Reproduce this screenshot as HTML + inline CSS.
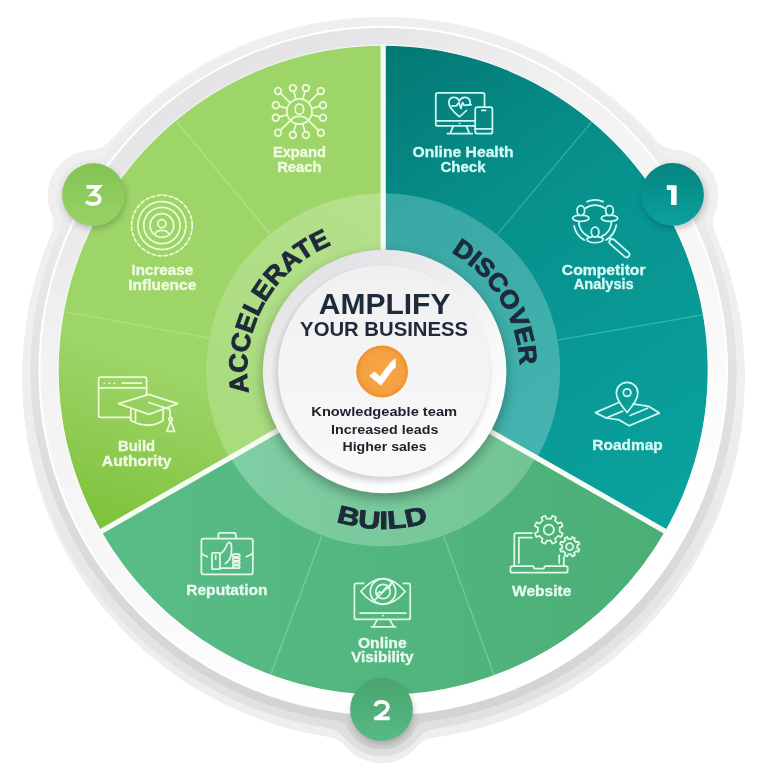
<!DOCTYPE html>
<html><head><meta charset="utf-8"><title>Amplify Your Business</title>
<style>
html,body{margin:0;padding:0;background:#fff;width:768px;height:768px;overflow:hidden}
svg{display:block;will-change:transform}
text{font-family:"Liberation Sans", sans-serif;font-weight:bold}
</style></head><body>
<svg width="768" height="768" viewBox="0 0 768 768">
<defs>
 <filter id="goo" x="-10%" y="-10%" width="120%" height="120%">
  <feGaussianBlur in="SourceGraphic" stdDeviation="7" result="b"/>
  <feColorMatrix in="b" mode="matrix" values="1 0 0 0 0  0 1 0 0 0  0 0 1 0 0  0 0 0 30 -14" result="g"/>
 </filter>
 <filter id="goo2" x="-10%" y="-10%" width="120%" height="120%">
  <feGaussianBlur in="SourceGraphic" stdDeviation="4" result="b"/>
  <feColorMatrix in="b" mode="matrix" values="1 0 0 0 0  0 1 0 0 0  0 0 1 0 0  0 0 0 30 -14" result="g"/>
 </filter>
 <linearGradient id="gPlate" x1="0" y1="17" x2="0" y2="760" gradientUnits="userSpaceOnUse">
  <stop offset="0" stop-color="#f0f0f0"/><stop offset="0.5" stop-color="#efefef"/><stop offset="0.95" stop-color="#e0e0e0"/><stop offset="1" stop-color="#dddddd"/>
 </linearGradient>
 <linearGradient id="gMid" x1="0" y1="18" x2="0" y2="750" gradientUnits="userSpaceOnUse">
  <stop offset="0" stop-color="#efefef"/><stop offset="0.25" stop-color="#ebebeb"/><stop offset="0.48" stop-color="#e2e2e2"/><stop offset="0.96" stop-color="#d3d3d3"/><stop offset="1" stop-color="#d0d0d0"/>
 </linearGradient>
 <filter id="blur6" x="-20%" y="-20%" width="140%" height="140%"><feGaussianBlur stdDeviation="6"/></filter>
 <filter id="blur3" x="-20%" y="-20%" width="140%" height="140%"><feGaussianBlur stdDeviation="3"/></filter>
 <filter id="blur2" x="-20%" y="-20%" width="140%" height="140%"><feGaussianBlur stdDeviation="2"/></filter>
 <linearGradient id="gInnerBand" x1="200" y1="0" x2="560" y2="740" gradientUnits="userSpaceOnUse">
  <stop offset="0" stop-color="#e1e1e4"/><stop offset="0.12" stop-color="#e5e5e7"/><stop offset="0.3" stop-color="#f2f2f3"/><stop offset="0.6" stop-color="#f8f8f8"/><stop offset="0.85" stop-color="#ffffff"/>
 </linearGradient>
 <linearGradient id="gAcc" x1="200" y1="380" x2="150" y2="530" gradientUnits="userSpaceOnUse">
  <stop offset="0" stop-color="#9dd568"/><stop offset="0.5" stop-color="#90cc55"/><stop offset="1" stop-color="#80c33e"/>
 </linearGradient>
 <linearGradient id="gAccIn" x1="383" y1="194" x2="230" y2="450" gradientUnits="userSpaceOnUse">
  <stop offset="0" stop-color="#b5e08d"/><stop offset="1" stop-color="#a9db7d"/>
 </linearGradient>
 <linearGradient id="gDis" x1="384" y1="46" x2="680" y2="500" gradientUnits="userSpaceOnUse">
  <stop offset="0" stop-color="#037874"/><stop offset="0.35" stop-color="#078f8b"/><stop offset="1" stop-color="#0aa29e"/>
 </linearGradient>
 <linearGradient id="gDisIn" x1="384" y1="194" x2="540" y2="450" gradientUnits="userSpaceOnUse">
  <stop offset="0" stop-color="#38a6a2"/><stop offset="1" stop-color="#45b3af"/>
 </linearGradient>
 <linearGradient id="gBld" x1="100" y1="540" x2="670" y2="540" gradientUnits="userSpaceOnUse">
  <stop offset="0" stop-color="#5abd89"/><stop offset="1" stop-color="#4aae75"/>
 </linearGradient>
 <linearGradient id="gBldIn" x1="230" y1="480" x2="540" y2="480" gradientUnits="userSpaceOnUse">
  <stop offset="0" stop-color="#80cea3"/><stop offset="1" stop-color="#72c495"/>
 </linearGradient>
 <linearGradient id="gCenterRing" x1="320" y1="255" x2="450" y2="490" gradientUnits="userSpaceOnUse">
  <stop offset="0" stop-color="#e1e1e5"/><stop offset="0.3" stop-color="#eeeef0"/><stop offset="0.6" stop-color="#f8f8f9"/><stop offset="1" stop-color="#ffffff"/>
 </linearGradient>
 <linearGradient id="gCenterIn" x1="0" y1="266" x2="0" y2="477" gradientUnits="userSpaceOnUse">
  <stop offset="0" stop-color="#f0f0f2"/><stop offset="1" stop-color="#f9f9f9"/>
 </linearGradient>
 <linearGradient id="gB3" x1="0" y1="163" x2="0" y2="226" gradientUnits="userSpaceOnUse">
  <stop offset="0" stop-color="#82c352"/><stop offset="1" stop-color="#98d266"/>
 </linearGradient>
 <linearGradient id="gB1" x1="0" y1="163" x2="0" y2="226" gradientUnits="userSpaceOnUse">
  <stop offset="0" stop-color="#058480"/><stop offset="1" stop-color="#0ba19d"/>
 </linearGradient>
 <linearGradient id="gB2" x1="0" y1="678" x2="0" y2="741" gradientUnits="userSpaceOnUse">
  <stop offset="0" stop-color="#48a46c"/><stop offset="1" stop-color="#57ba86"/>
 </linearGradient>
 <radialGradient id="gOrange" cx="382.1" cy="371.5" r="25.9" gradientUnits="userSpaceOnUse">
  <stop offset="0" stop-color="#f6a646"/><stop offset="0.82" stop-color="#f4a041"/><stop offset="1" stop-color="#ef8f28"/>
 </radialGradient>

<path id="tpAcc" d="M316.80,490.10 A136.5,136.5 0 0 1 450.20,251.90" fill="none"/>
<path id="tpDis" d="M312.38,254.49 A136.5,136.5 0 0 1 454.62,487.51" fill="none"/>
<path id="tpBld" d="M224.51,369.61 A159,159 0 0 0 542.49,372.39" fill="none"/>
</defs>
<g filter="url(#goo)">
<ellipse cx="383.5" cy="380.0" rx="361" ry="361" fill="#eeeeee"/>
<circle cx="381.5" cy="717.6" r="46" fill="#eeeeee"/>
</g>
<g filter="url(#goo)">
<ellipse cx="383.5" cy="374.5" rx="361" ry="357.5" fill="url(#gPlate)"/>
<circle cx="93.5" cy="195.7" r="46" fill="url(#gPlate)"/>
<circle cx="672.5" cy="195.4" r="46" fill="url(#gPlate)"/>
<circle cx="381.5" cy="710.6" r="46" fill="url(#gPlate)"/>
</g>
<g filter="url(#goo2)">
<circle cx="383.5" cy="371.0" r="353" fill="url(#gMid)"/>
<circle cx="93.5" cy="196.7" r="38" fill="url(#gMid)"/>
<circle cx="672.5" cy="196.4" r="38" fill="url(#gMid)"/>
<circle cx="381.5" cy="711.6" r="38" fill="url(#gMid)"/>
</g>
<circle cx="383.2" cy="370.6" r="344.8" fill="#ffffff"/>
<circle cx="383.2" cy="370.6" r="342.8" fill="url(#gInnerBand)"/>
<path d="M101.30,531.22 A324.6,324.6 0 0 1 383.20,45.70 L383.20,195.30 A175,175 0 0 0 231.22,457.06 Z" fill="url(#gAcc)"/>
<path d="M383.20,45.70 A324.6,324.6 0 0 1 665.10,531.22 L535.18,457.06 A175,175 0 0 0 383.20,195.30 Z" fill="url(#gDis)"/>
<path d="M665.10,531.22 A324.6,324.6 0 0 1 101.30,531.22 L231.22,457.06 A175,175 0 0 0 535.18,457.06 Z" fill="url(#gBld)"/>
<path d="M229.48,458.05 A177,177 0 0 1 383.20,193.30 L383.20,260.30 A110,110 0 0 0 287.67,424.83 Z" fill="url(#gAccIn)"/>
<path d="M383.20,193.30 A177,177 0 0 1 536.92,458.05 L478.73,424.83 A110,110 0 0 0 383.20,260.30 Z" fill="url(#gDisIn)"/>
<path d="M536.05,457.55 A176,176 0 0 1 230.35,457.55 L287.67,424.83 A110,110 0 0 0 478.73,424.83 Z" fill="url(#gBldIn)"/>
<circle cx="383.2" cy="370.3" r="325.1" fill="none" stroke="#ffffff" stroke-opacity="0.5" stroke-width="1.2"/>
<line x1="496.97" y1="234.71" x2="591.46" y2="122.10" stroke="#2ab2ac" stroke-width="1.25"/>
<line x1="557.59" y1="340.02" x2="702.42" y2="314.87" stroke="#2eb8b2" stroke-width="1.25"/>
<line x1="443.74" y1="536.63" x2="494.01" y2="674.76" stroke="#6ad29c" stroke-width="1.25"/>
<line x1="321.79" y1="536.31" x2="270.79" y2="674.18" stroke="#6cd39e" stroke-width="1.25"/>
<line x1="209.14" y1="338.20" x2="64.57" y2="311.53" stroke="#ade183" stroke-width="1.25"/>
<line x1="270.02" y1="234.21" x2="176.02" y2="121.20" stroke="#b2e38a" stroke-width="1.25"/>
<line x1="383.20" y1="260.30" x2="383.20" y2="44.30" stroke="#f6fbf4" stroke-width="5.2"/>
<line x1="478.73" y1="424.83" x2="666.32" y2="531.92" stroke="#f6fbf4" stroke-width="5.2"/>
<line x1="287.67" y1="424.83" x2="100.08" y2="531.92" stroke="#f6fbf4" stroke-width="5.2"/>
<circle cx="384.6" cy="376.5" r="122.5" fill="#000" opacity="0.28" filter="url(#blur6)"/>
<circle cx="384.6" cy="371.5" r="121.8" fill="url(#gCenterRing)"/>
<circle cx="382.0" cy="375.0" r="106.5" fill="#000" opacity="0.16" filter="url(#blur3)"/>
<circle cx="383.8" cy="371.0" r="105.8" fill="url(#gCenterIn)"/>
<text x="384.6" y="314.2" font-size="28.6" fill="#1e2a3a" text-anchor="middle" textLength="131.7" lengthAdjust="spacingAndGlyphs">AMPLIFY</text>
<text x="384.1" y="336.4" font-size="19.9" fill="#1e2a3a" text-anchor="middle" textLength="168" lengthAdjust="spacingAndGlyphs">YOUR BUSINESS</text>
<circle cx="382.1" cy="371.5" r="25.9" fill="url(#gOrange)"/>
<path d="M369.4,375.7 L374.4,371.8 L379.8,376.6 L390.7,362.5 L395.3,358.6 L395.5,367.6 L392.6,369.6 L381,385.3 Z" fill="#fff" stroke="#fff" stroke-width="0.6" stroke-linejoin="round"/>
<text x="384.2" y="416.2" font-size="13.3" fill="#1c212b" text-anchor="middle" textLength="145.8" lengthAdjust="spacingAndGlyphs">Knowledgeable team</text>
<text x="384.7" y="433.9" font-size="13.3" fill="#1c212b" text-anchor="middle" textLength="107.3" lengthAdjust="spacingAndGlyphs">Increased leads</text>
<text x="384.5" y="451.4" font-size="13.3" fill="#1c212b" text-anchor="middle" textLength="84" lengthAdjust="spacingAndGlyphs">Higher sales</text>
<text font-size="26" fill="#1e2a3a" stroke="#1e2a3a" stroke-width="0.9"><textPath href="#tpAcc" startOffset="50%" text-anchor="middle" textLength="183" lengthAdjust="spacingAndGlyphs">ACCELERATE</textPath></text>
<text font-size="25" fill="#1e2a3a" stroke="#1e2a3a" stroke-width="0.9"><textPath href="#tpDis" startOffset="50%" text-anchor="middle" textLength="138" lengthAdjust="spacingAndGlyphs">DISCOVER</textPath></text>
<text font-size="25" fill="#1e2a3a" stroke="#1e2a3a" stroke-width="0.9"><textPath href="#tpBld" startOffset="50%" text-anchor="middle" textLength="93.5" lengthAdjust="spacingAndGlyphs">BUILD</textPath></text>
<text x="299.4" y="157.4" font-size="14.1" fill="#f1fbe3" stroke="#f1fbe3" stroke-width="0.3" text-anchor="middle" textLength="53" lengthAdjust="spacingAndGlyphs">Expand</text>
<text x="299.4" y="172" font-size="14.1" fill="#f1fbe3" stroke="#f1fbe3" stroke-width="0.3" text-anchor="middle" textLength="44.4" lengthAdjust="spacingAndGlyphs">Reach</text>
<text x="162.3" y="274.8" font-size="14.1" fill="#f1fbe3" stroke="#f1fbe3" stroke-width="0.3" text-anchor="middle" textLength="61.6" lengthAdjust="spacingAndGlyphs">Increase</text>
<text x="162.3" y="289.9" font-size="14.1" fill="#f1fbe3" stroke="#f1fbe3" stroke-width="0.3" text-anchor="middle" textLength="68" lengthAdjust="spacingAndGlyphs">Influence</text>
<text x="136.6" y="451" font-size="14.1" fill="#f1fbe3" stroke="#f1fbe3" stroke-width="0.3" text-anchor="middle" textLength="37" lengthAdjust="spacingAndGlyphs">Build</text>
<text x="136.6" y="465.5" font-size="14.1" fill="#f1fbe3" stroke="#f1fbe3" stroke-width="0.3" text-anchor="middle" textLength="69.5" lengthAdjust="spacingAndGlyphs">Authority</text>
<text x="463" y="156.7" font-size="14.1" fill="#d6faf6" stroke="#d6faf6" stroke-width="0.3" text-anchor="middle" textLength="101" lengthAdjust="spacingAndGlyphs">Online Health</text>
<text x="463" y="171.7" font-size="14.1" fill="#d6faf6" stroke="#d6faf6" stroke-width="0.3" text-anchor="middle" textLength="45" lengthAdjust="spacingAndGlyphs">Check</text>
<text x="603.7" y="274.5" font-size="14.1" fill="#d6faf6" stroke="#d6faf6" stroke-width="0.3" text-anchor="middle" textLength="83.8" lengthAdjust="spacingAndGlyphs">Competitor</text>
<text x="603.7" y="288.9" font-size="14.1" fill="#d6faf6" stroke="#d6faf6" stroke-width="0.3" text-anchor="middle" textLength="60" lengthAdjust="spacingAndGlyphs">Analysis</text>
<text x="627.5" y="450" font-size="14.1" fill="#d6faf6" stroke="#d6faf6" stroke-width="0.3" text-anchor="middle" textLength="70.3" lengthAdjust="spacingAndGlyphs">Roadmap</text>
<text x="226.9" y="594.9" font-size="14.1" fill="#e9faef" stroke="#e9faef" stroke-width="0.3" text-anchor="middle" textLength="81.4" lengthAdjust="spacingAndGlyphs">Reputation</text>
<text x="382.3" y="648.1" font-size="14.1" fill="#e9faef" stroke="#e9faef" stroke-width="0.3" text-anchor="middle" textLength="48.7" lengthAdjust="spacingAndGlyphs">Online</text>
<text x="382.3" y="662.4" font-size="14.1" fill="#e9faef" stroke="#e9faef" stroke-width="0.3" text-anchor="middle" textLength="62.3" lengthAdjust="spacingAndGlyphs">Visibility</text>
<text x="541.7" y="595.5" font-size="14.1" fill="#e9faef" stroke="#e9faef" stroke-width="0.3" text-anchor="middle" textLength="59.2" lengthAdjust="spacingAndGlyphs">Website</text>
<g fill="none" stroke="#eefad9" stroke-width="1.75" stroke-linecap="round" stroke-linejoin="round">
<circle cx="299.4" cy="111.5" r="12.6"/>
<rect x="295.29999999999995" y="104.2" width="8.2" height="10" rx="3.8"/>
<path d="M291.09999999999997,120.3 C293.4,115.1 305.4,115.1 307.7,120.3"/>
<circle cx="278.00" cy="90.90" r="3.35"/>
<line x1="290.32" y1="102.76" x2="280.41" y2="93.22"/>
<circle cx="292.90" cy="88.10" r="3.35"/>
<line x1="296.03" y1="99.36" x2="293.80" y2="91.33"/>
<circle cx="305.90" cy="88.10" r="3.35"/>
<line x1="302.77" y1="99.36" x2="305.00" y2="91.33"/>
<circle cx="320.80" cy="90.90" r="3.35"/>
<line x1="308.48" y1="102.76" x2="318.39" y2="93.22"/>
<circle cx="275.80" cy="105.30" r="3.35"/>
<line x1="287.21" y1="108.30" x2="279.04" y2="106.15"/>
<circle cx="323.00" cy="105.30" r="3.35"/>
<line x1="311.59" y1="108.30" x2="319.76" y2="106.15"/>
<circle cx="275.80" cy="117.80" r="3.35"/>
<line x1="287.23" y1="114.75" x2="279.04" y2="116.94"/>
<circle cx="323.00" cy="117.80" r="3.35"/>
<line x1="311.57" y1="114.75" x2="319.76" y2="116.94"/>
<circle cx="278.00" cy="132.70" r="3.35"/>
<line x1="290.45" y1="120.37" x2="280.38" y2="130.34"/>
<circle cx="292.90" cy="135.00" r="3.35"/>
<line x1="296.04" y1="123.64" x2="293.79" y2="131.77"/>
<circle cx="305.90" cy="135.00" r="3.35"/>
<line x1="302.76" y1="123.64" x2="305.01" y2="131.77"/>
<circle cx="320.80" cy="132.70" r="3.35"/>
<line x1="308.35" y1="120.37" x2="318.42" y2="130.34"/>
</g>
<g fill="none" stroke="#eefad9" stroke-width="1.75" stroke-linecap="round" stroke-linejoin="round">
<circle cx="161.9" cy="225.5" r="30.3" stroke-dasharray="3.4 2.6"/>
<circle cx="161.9" cy="225.5" r="24" stroke-dasharray="3.2 1.2"/>
<circle cx="161.9" cy="225.5" r="18.2"/>
<circle cx="161.9" cy="225.5" r="11.8"/>
<circle cx="161.9" cy="223.7" r="4"/>
<path d="M154.9,234.1 C156.9,229.1 166.9,229.1 168.9,234.1"/>
</g>
<g fill="none" stroke="#eefad9" stroke-width="1.75" stroke-linecap="round" stroke-linejoin="round">
<path d="M130.5,417.3 L100.6,417.3 Q98.6,417.3 98.6,415.3 L98.6,379.2 Q98.6,377.2 100.6,377.2 L144.6,377.2 Q146.6,377.2 146.6,379.2 L146.6,394.5"/>
<line x1="98.6" y1="387.9" x2="146.6" y2="387.9"/>
<line x1="122.2" y1="383.2" x2="141.4" y2="383.2"/>
<path d="M118.7,403.7 L148.8,394.4 L177.4,403.7 L148.8,414.4 Z"/>
<path d="M130.8,408.6 L130.8,420.5 Q148.8,430 163.1,420.5 L163.1,408.6"/>
<line x1="135.5" y1="411" x2="135.5" y2="421"/>
<path d="M148.8,402.5 L169.8,409.4 L170.4,417.5"/>
<circle cx="170.6" cy="419.3" r="1.8"/>
<path d="M170.6,421.2 L166.8,431.4 L174.6,431.4 Z"/>
</g>
<g fill="#eefad9"><circle cx="104.3" cy="383.2" r="1"/><circle cx="109.4" cy="383.2" r="1"/><circle cx="114.4" cy="383.2" r="1"/></g>
<g fill="none" stroke="#d0f8f4" stroke-width="1.75" stroke-linecap="round" stroke-linejoin="round">
<path d="M484.5,107.2 L484.5,94.9 Q484.5,92.9 482.5,92.9 L437.8,92.9 Q435.8,92.9 435.8,94.9 L435.8,123.9 Q435.8,125.9 437.8,125.9 L475.2,125.9"/>
<line x1="435.8" y1="120.8" x2="475.2" y2="120.8"/>
<path d="M453.2,126.2 L450.2,133.6 M466.4,126.2 L469.4,133.6 M447.4,133.6 L472.2,133.6"/>
<rect x="475.2" y="107.2" width="17.2" height="26.5" rx="2.3"/>
<line x1="481.8" y1="110.3" x2="485.6" y2="110.3"/>
<line x1="475.2" y1="128.8" x2="492.4" y2="128.8"/>
<path d="M466.5,110.5 C463.7,113.3 461.5,115 459.4,116.7 C455,113.2 448.8,108.5 448.8,102.6 C448.8,96.7 456.6,95.3 459.4,100.8 C462.2,95.3 470.1,96.7 470.1,102.6 C470.1,103.4 470,104 469.8,104.7"/>
<path d="M451.8,105.8 L456.4,105.8 L458.9,102.4 L460.9,108.6 L462.6,102.6 L464.2,105.4 L471.2,104.6"/>
</g>
<circle cx="459.6" cy="123.4" r="0.9" fill="#d0f8f4"/>
<g fill="none" stroke="#d0f8f4" stroke-width="1.75" stroke-linecap="round" stroke-linejoin="round">
<path d="M375.45,351.07 A21.5,21.5 0 0 1 391.55,351.07" transform="translate(211.60000000000002,-149.5)"/>
<path d="M404.67,374.73 A21.5,21.5 0 0 1 394.25,389.62" transform="translate(211.60000000000002,-149.5)"/>
<path d="M372.75,389.62 A21.5,21.5 0 0 1 362.47,375.47" transform="translate(211.60000000000002,-149.5)"/>
<path d="M399.32,367.06 A16.3,16.3 0 0 1 390.13,385.89" transform="translate(211.60000000000002,-149.5)"/>
<path d="M376.87,385.89 A16.3,16.3 0 0 1 367.68,367.06" transform="translate(211.60000000000002,-149.5)"/>
<path d="M373.92,357.81 A16.3,16.3 0 0 1 393.08,357.81" transform="translate(211.60000000000002,-149.5)"/>
<ellipse cx="580.8" cy="218.2" rx="8.2" ry="3.1" fill="#078d89"/>
<ellipse cx="580.8" cy="210.6" rx="3.8" ry="5" fill="#078d89"/>
<ellipse cx="609.5" cy="218.2" rx="8.2" ry="3.1" fill="#078d89"/>
<ellipse cx="609.5" cy="210.6" rx="3.8" ry="5" fill="#078d89"/>
<ellipse cx="595.1" cy="239.6" rx="8.2" ry="3.1" fill="#078d89"/>
<ellipse cx="595.1" cy="232.0" rx="3.8" ry="5" fill="#078d89"/>
</g>
<g transform="translate(619.4,248.2) rotate(41.3)"><rect x="-12.4" y="-2.9" width="24.8" height="5.8" rx="2.9" fill="none" stroke="#d0f8f4" stroke-width="1.75"/></g>
<line x1="609.5" y1="238.2" x2="611.3" y2="240" stroke="#d0f8f4" stroke-width="1.75"/>
<g fill="none" stroke="#d0f8f4" stroke-width="1.75" stroke-linecap="round" stroke-linejoin="round">
<path d="M627.1,412.6 C624.5,408.5 616.4,401.5 616.4,393 A10.7,10.7 0 1 1 637.8,393 C637.8,401.5 629.7,408.5 627.1,412.6 Z"/>
<circle cx="627.1" cy="392.6" r="3.8"/>
<path d="M619.3,402.3 L595.4,412.6 L606.1,418 L619.3,419.9 L629.1,425.8 L659.3,413.1 L648.6,406.3 L633,403.8"/>
<line x1="606.1" y1="418" x2="622.7" y2="411.1"/>
<line x1="630" y1="415.5" x2="647.6" y2="408.2"/>
</g>
<g fill="none" stroke="#e0f9e8" stroke-width="1.75" stroke-linecap="round" stroke-linejoin="round">
<rect x="201.4" y="538.6" width="51.4" height="35.8" rx="2.2"/>
<path d="M218.4,538.6 L218.4,534.6 Q218.4,532.9 220.1,532.9 L234.1,532.9 Q235.8,532.9 235.8,534.6 L235.8,538.6"/>
<path d="M201.6,553.6 Q204.5,555.6 207.3,556.6 M252.6,553.6 Q249.5,555.6 246.5,556.8"/>
<rect x="212" y="552.9" width="7.9" height="16.3" rx="0.8"/>
<line x1="215.7" y1="555.4" x2="215.7" y2="559"/>
<path d="M219.9,554.3 C222,553 225.5,548.5 227,544.5 C227.8,542.3 229.8,541.8 230.8,543.4 C231.8,545.3 231.6,550 231.3,553.3 C230.8,557.5 229,561 225.4,563.5"/>
<path d="M219.9,568 L233,568"/>
<rect x="232.6" y="554.2" width="7.2" height="2.6" rx="1.3"/>
<rect x="232.6" y="558.0" width="7.2" height="2.6" rx="1.3"/>
<rect x="232.6" y="561.8" width="7.2" height="2.6" rx="1.3"/>
<rect x="232.6" y="565.6" width="7.2" height="2.6" rx="1.3"/>
</g>
<g fill="none" stroke="#e0f9e8" stroke-width="1.75" stroke-linecap="round" stroke-linejoin="round">
<path d="M363.7,583.3 L356.4,583.3 Q354.4,583.3 354.4,585.3 L354.4,617.4 Q354.4,619.4 356.4,619.4 L408.2,619.4 Q410.2,619.4 410.2,617.4 L410.2,585.3 Q410.2,583.3 408.2,583.3 L403.2,583.3"/>
<line x1="360.1" y1="613" x2="405.9" y2="613"/>
<path d="M377.3,619.6 L373.2,626.9 M389.7,619.6 L393.8,626.9 M371.5,626.9 L395.6,626.9"/>
<path d="M360.8,591.5 Q383,565.6 405.2,591.5 Q383,617.4 360.8,591.5 Z"/>
<circle cx="383" cy="591.5" r="12.7"/>
<circle cx="383" cy="591.5" r="7.2"/>
<path d="M374.2,600.6 L392.4,582.4"/>
<path d="M376.6,594.8 L379.6,591.6 L381.4,593.2 L386.2,587.4 L387.6,588.6 L390.8,585.2"/>
</g>
<circle cx="383" cy="615.6" r="0.9" fill="#e0f9e8"/>
<g fill="none" stroke="#e0f9e8" stroke-width="1.75" stroke-linecap="round" stroke-linejoin="round">
<path d="M514.3,566.2 L514.3,535.2 Q514.3,533 516.5,533 L532,533"/>
<path d="M518.9,563 L518.9,537.6 L532,537.6"/>
<path d="M563.8,557.1 L563.8,566.2"/>
<path d="M559.2,555.2 L559.2,563"/>
<path d="M512.4,566.2 L533.2,566.2 L534.2,568.6 L543.8,568.6 L544.9,566.2 L565.7,566.2 Q567.7,566.2 567.7,568.2 L567.7,570.7 Q567.7,572.7 565.7,572.7 L512.4,572.7 Q510.4,572.7 510.4,570.7 L510.4,568.2 Q510.4,566.2 512.4,566.2 Z"/>
<path d="M550.86,518.89 L552.28,515.83 A14.3,14.3 0 0 1 556.15,517.43 L554.98,520.60 A11.0,11.0 0 0 1 557.90,523.52 L561.07,522.35 A14.3,14.3 0 0 1 562.67,526.22 L559.61,527.64 A11.0,11.0 0 0 1 559.61,531.76 L562.67,533.18 A14.3,14.3 0 0 1 561.07,537.05 L557.90,535.88 A11.0,11.0 0 0 1 554.98,538.80 L556.15,541.97 A14.3,14.3 0 0 1 552.28,543.57 L550.86,540.51 A11.0,11.0 0 0 1 546.74,540.51 L545.32,543.57 A14.3,14.3 0 0 1 541.45,541.97 L542.62,538.80 A11.0,11.0 0 0 1 539.70,535.88 L536.53,537.05 A14.3,14.3 0 0 1 534.93,533.18 L537.99,531.76 A11.0,11.0 0 0 1 537.99,527.64 L534.93,526.22 A14.3,14.3 0 0 1 536.53,522.35 L539.70,523.52 A11.0,11.0 0 0 1 542.62,520.60 L541.45,517.43 A14.3,14.3 0 0 1 545.32,515.83 L546.74,518.89 A11.0,11.0 0 0 1 550.86,518.89 Z"/>
<circle cx="548.8" cy="529.7" r="5.1"/>
<path d="M571.20,539.15 L572.13,537.00 A10,10 0 0 1 574.84,538.12 L573.98,540.30 A7.7,7.7 0 0 1 576.10,542.42 L578.28,541.56 A10,10 0 0 1 579.40,544.27 L577.25,545.20 A7.7,7.7 0 0 1 577.25,548.20 L579.40,549.13 A10,10 0 0 1 578.28,551.84 L576.10,550.98 A7.7,7.7 0 0 1 573.98,553.10 L574.84,555.28 A10,10 0 0 1 572.13,556.40 L571.20,554.25 A7.7,7.7 0 0 1 568.20,554.25 L567.27,556.40 A10,10 0 0 1 564.56,555.28 L565.42,553.10 A7.7,7.7 0 0 1 563.30,550.98 L561.12,551.84 A10,10 0 0 1 560.00,549.13 L562.15,548.20 A7.7,7.7 0 0 1 562.15,545.20 L560.00,544.27 A10,10 0 0 1 561.12,541.56 L563.30,542.42 A7.7,7.7 0 0 1 565.42,540.30 L564.56,538.12 A10,10 0 0 1 567.27,537.00 L568.20,539.15 A7.7,7.7 0 0 1 571.20,539.15 Z"/>
<circle cx="569.7" cy="546.7" r="3.5"/>
</g>
<circle cx="94.5" cy="197.7" r="31.5" fill="#000" opacity="0.2" filter="url(#blur3)"/>
<circle cx="93.5" cy="194.7" r="31.4" fill="url(#gB3)"/>
<circle cx="673.5" cy="197.4" r="31.5" fill="#000" opacity="0.2" filter="url(#blur3)"/>
<circle cx="672.5" cy="194.4" r="31.4" fill="url(#gB1)"/>
<circle cx="382.5" cy="712.6" r="31.5" fill="#000" opacity="0.2" filter="url(#blur3)"/>
<circle cx="381.5" cy="709.6" r="31.4" fill="url(#gB2)"/>
<path d="M86.4,186.9 L99.0,186.9 L92.4,194.3 C96.9,193.9 99.9,196.2 99.9,199.1 C99.9,202.3 97.1,204.0 93.0,204.0 C90.1,204.0 87.7,203.1 86.0,201.4" fill="none" stroke="#fff" stroke-width="3.6" stroke-linejoin="miter" stroke-linecap="butt"/>
<path d="M666.8,185.2 L676.6,185.2 L676.6,204.9 L671.1,204.9 L671.1,189.9 L666.8,189.9 Z" fill="#fff"/>
<path d="M375.3,706.2 C375.9,703.2 378.4,701.9 381.5,701.9 C385.3,701.9 387.9,703.9 387.9,706.9 C387.9,708.7 387.0,710.1 385.3,711.7 L376.6,718.4" fill="none" stroke="#fff" stroke-width="3.6" stroke-linejoin="round" stroke-linecap="butt"/>
<path d="M374.2,716.6 L389.7,716.6 L389.7,720.2 L374.2,720.2 Z M374.2,716.6 L379.5,716.6 L376.8,720.2 Z" fill="#fff"/>
</svg>
</body></html>
